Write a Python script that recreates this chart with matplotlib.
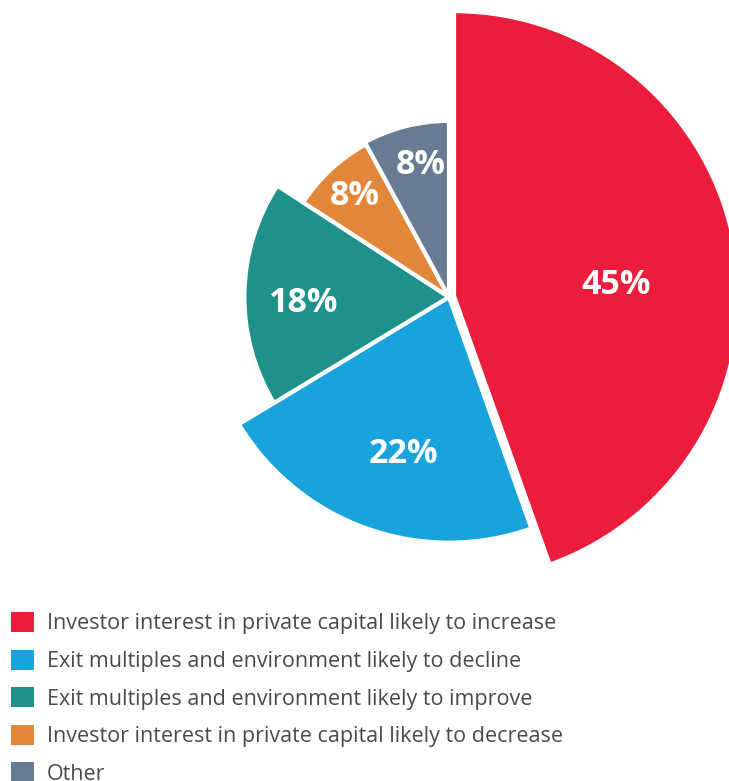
import numpy as np
import matplotlib.pyplot as plt
from matplotlib.patches import Patch

# Survey shares (percent) and per-slice radius (relative to largest slice)
categories = [
    "Investor interest in private capital likely to increase",
    "Exit multiples and environment likely to decline",
    "Exit multiples and environment likely to improve",
    "Investor interest in private capital likely to decrease",
    "Other",
]
shares = [45, 22, 18, 8, 8]
radii = [1.0, 0.862, 0.718, 0.61, 0.618]
labels = ["45%", "22%", "18%", "8%", "8%"]

colors = ["#EB1C3C", "#19A3DC", "#1E918B", "#E2873A", "#677C92"]
explode = [0.018, 0, 0, 0, 0]
label_dist = [0.57, 0.565, 0.51, 0.49, 0.48]
label_shift = [5.0, -3.0, -2.5, 0.5, 2.5]  # degrees, clockwise

W, H = 729, 781
cx, cy, unit = 449, 297, 285  # pie centre and radius in pixels

fig = plt.figure(figsize=(W / 100, H / 100), dpi=100)
ax = fig.add_axes([0, 0, 1, 1])

wedges, _ = ax.pie(shares, colors=colors, startangle=90, counterclock=False,
                   explode=explode, radius=1.0,
                   wedgeprops=dict(edgecolor="white", linewidth=3))
for w, r in zip(wedges, radii):
    w.set_radius(r)

for w, lab, d, sh in zip(wedges, labels, label_dist, label_shift):
    mid = np.deg2rad((w.theta1 + w.theta2) / 2 - sh)
    x = w.center[0] + d * np.cos(mid)
    y = w.center[1] + d * np.sin(mid) - 0.008
    ax.text(x, y, lab, ha="center", va="center", color="white",
            fontsize=24.5, fontweight="bold", family=["Open Sans", "DejaVu Sans"])

ax.set_xlim(-cx / unit, (W - cx) / unit)
ax.set_ylim(-(H - cy) / unit, cy / unit)
ax.set_aspect("equal")
ax.axis("off")

handles = [Patch(facecolor=c, edgecolor="none") for c in colors]
fig.legend(handles, categories, loc="upper left",
           bbox_to_anchor=(11 / W, 1 - 612 / H), bbox_transform=fig.transFigure,
           frameon=False, borderpad=0, borderaxespad=0,
           prop={"family": ["Open Sans", "DejaVu Sans"], "size": 15.5},
           labelcolor="#4a4a4a", handlelength=1.07, handleheight=1.07,
           handletextpad=0.6, labelspacing=0.7)

plt.savefig("out.png", dpi=100)
